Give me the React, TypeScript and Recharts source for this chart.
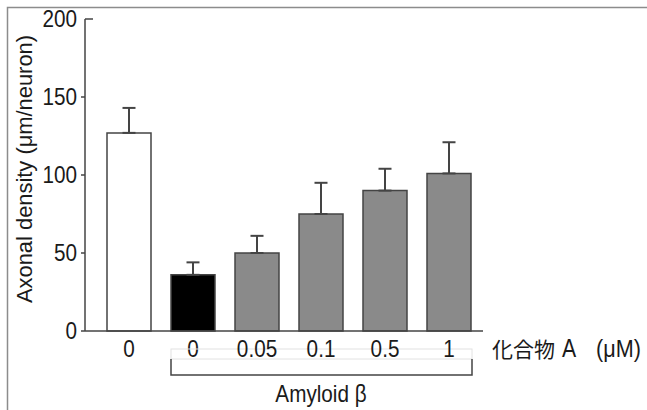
import { BarChart, Bar, XAxis, YAxis, ErrorBar, Cell, Customized } from "recharts";

const categories = ["0", "0", "0.05", "0.1", "0.5", "1"];
const density = [127, 36, 50, 75, 90, 101];
const upperErr = [16, 8, 11, 20, 14, 20];
const barFills = ["#ffffff", "#000000", "#8a8a8a", "#8a8a8a", "#8a8a8a", "#8a8a8a"];
const yTicks = [0, 50, 100, 150, 200];
const unitLabel = "化合物";

const data = categories.map((label, i) => ({
  label,
  value: density[i],
  err: [0, upperErr[i]],
}));

const INK = "#444";
const TEXT = "#1a1a1a";
const FONT = "'Liberation Sans', Arial, sans-serif";
const BAND = 64;
const BAR = 44;

// condensed-looking text, like the narrow face in the original figure
function NText({ x, y, anchor = "start", size = 23, sx = 0.9, children }: any) {
  return (
    <text
      transform={`translate(${x},${y}) scale(${sx},1)`}
      textAnchor={anchor}
      fontSize={size}
      fill={TEXT}
      fontFamily={FONT}
    >
      {children}
    </text>
  );
}

function YTick({ x, y, payload }: any) {
  const top = payload.value === 200;
  return (
    <g>
      <line x1={x} x2={top ? x + 8 : x - 4} y1={y} y2={y} stroke={INK} strokeWidth={1.5} />
      <NText x={x - 8} y={y + 8} anchor="end">{payload.value}</NText>
    </g>
  );
}

function XTick({ x, y, payload, index }: any) {
  return (
    <g>
      <NText x={x} y={y + 26} anchor="middle">{payload.value}</NText>
      {index === 1 && (
        <g>
          <rect
            x={x - BAR / 2} y={y + 18} width={BAR + 4 * BAND + 1} height={10}
            fill="none" stroke="#e2e2e2" strokeWidth={1}
          />
          <path
            d={`M${x - BAR / 2},${y + 28} V${y + 44} H${x + BAR / 2 + 4 * BAND + 1} V${y + 28}`}
            fill="none" stroke={INK} strokeWidth={1.5}
          />
          <NText x={x + 2 * BAND} y={y + 71} anchor="middle">Amyloid β</NText>
        </g>
      )}
      {index === categories.length - 1 && (
        <g>
          <text x={x + 43} y={y + 26} fontSize={21} fill={TEXT} fontFamily="'Noto Sans CJK JP', sans-serif">
            {unitLabel}
          </text>
          <NText x={x + 113} y={y + 26} size={25} sx={0.85}>A</NText>
          <NText x={x + 147} y={y + 26} size={24}>(μM)</NText>
        </g>
      )}
    </g>
  );
}

function YLabel({ viewBox }: any) {
  const cx = 24;
  const cy = viewBox.y + viewBox.height / 2 - 6;
  return (
    <text
      x={cx}
      y={cy}
      transform={`rotate(-90 ${cx} ${cy})`}
      textAnchor="middle"
      dominantBaseline="central"
      fontSize={22}
      fill={TEXT}
      fontFamily={FONT}
      textLength={268}
      lengthAdjust="spacingAndGlyphs"
    >
      Axonal density (μm/neuron)
    </text>
  );
}

function Frame() {
  return <path d="M7.5,410 V7.5 H647" fill="none" stroke="#8c8c8c" strokeWidth={1.5} />;
}

export default function App() {
  return (
    <div style={{ width: 647, height: 410, background: "#fff" }}>
      <style>{"body{margin:0}"}</style>
      <BarChart
        width={647}
        height={410}
        data={data}
        margin={{ top: 19, right: 164, bottom: 49, left: 25 }}
      >
        <Customized component={<Frame />} />
        <XAxis
          dataKey="label"
          padding={{ left: 12, right: 2 }}
          axisLine={{ stroke: INK, strokeWidth: 1.5 }}
          tickLine={false}
          tickSize={0}
          tickMargin={0}
          interval={0}
          height={30}
          tick={<XTick />}
        />
        <YAxis
          domain={[0, 200]}
          ticks={yTicks}
          width={60}
          axisLine={{ stroke: INK, strokeWidth: 1.5 }}
          tickLine={false}
          tickSize={0}
          tickMargin={0}
          tick={<YTick />}
          label={<YLabel />}
        />
        <Bar dataKey="value" barSize={BAR} stroke={INK} strokeWidth={1.5} isAnimationActive={false}>
          {data.map((_, i) => (
            <Cell key={i} fill={barFills[i]} />
          ))}
          <ErrorBar dataKey="err" direction="y" width={6.5} stroke={INK} strokeWidth={2} isAnimationActive={false} />
        </Bar>
      </BarChart>
    </div>
  );
}
